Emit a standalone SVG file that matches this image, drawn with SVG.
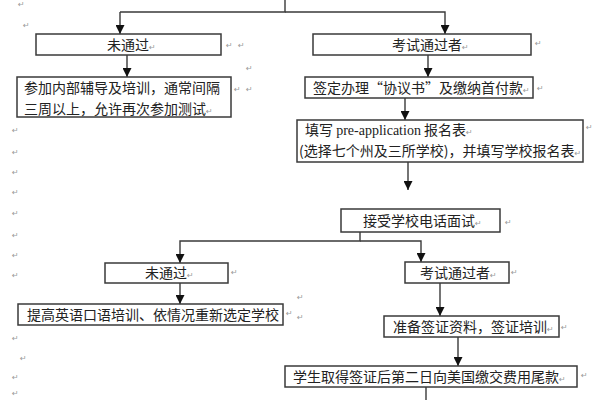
<svg xmlns="http://www.w3.org/2000/svg" width="600" height="400" viewBox="0 0 600 400">
<style>
.box{fill:#fff;stroke:#3a3a3a;stroke-width:1.5}
.t{font-family:"Noto Sans CJK SC","Noto Sans CJK JP",sans-serif;font-size:14px;fill:#222}
.lat{font-family:"Liberation Serif",serif}
.pm{font-family:"DejaVu Sans",sans-serif;font-size:8px;fill:#999}
.ln{fill:none;stroke:#3a3a3a;stroke-width:1.4}
</style>
<defs>
<marker id="ah" markerUnits="userSpaceOnUse" markerWidth="9" markerHeight="9" refX="9" refY="4.5" orient="auto">
<path d="M0,0 L9,4.5 L0,9 z" fill="#111"/>
</marker>
</defs>
<rect width="600" height="400" fill="#fff"/>
<g id="connectors">
<path class="ln" d="M285,0 V12 H120"/>
<path class="ln" d="M120,12 V34" marker-end="url(#ah)"/>
<path class="ln" d="M285,12 H445 V34" marker-end="url(#ah)"/>
<path class="ln" d="M127,55 V77" marker-end="url(#ah)"/>
<path class="ln" d="M428,55 V77" marker-end="url(#ah)"/>
<path class="ln" d="M405,98 V120" marker-end="url(#ah)"/>
<path class="ln" d="M408,162 V190" marker-end="url(#ah)"/>
<path class="ln" d="M360,232 V241 H180 V263" marker-end="url(#ah)"/>
<path class="ln" d="M360,241 H421 V262" marker-end="url(#ah)"/>
<path class="ln" d="M180,283 V304" marker-end="url(#ah)"/>
<path class="ln" d="M440,283 V316" marker-end="url(#ah)"/>
<path class="ln" d="M458,337 V366" marker-end="url(#ah)"/>
<path class="ln" d="M426,387 V400"/>
</g>
<g id="fail1">
<rect class="box" x="36" y="34" width="185" height="21"/>
<text class="t" x="107" y="50">未通过<tspan class="pm">↵</tspan></text>
</g>
<g id="training1">
<rect class="box" x="17" y="77" width="214" height="40"/>
<text class="t" x="24" y="93">参加内部辅导及培训，通常间隔</text>
<text class="t" x="24" y="114">三周以上，允许再次参加测试<tspan class="pm">↵</tspan></text>
</g>
<g id="pass1">
<rect class="box" x="313" y="34" width="218" height="21"/>
<text class="t" x="392" y="50">考试通过者<tspan class="pm">↵</tspan></text>
</g>
<g id="agreement">
<rect class="box" x="305" y="77" width="228" height="21"/>
<text class="t" x="313" y="93">签定办理“协议书”及缴纳首付款<tspan class="pm">↵</tspan></text>
</g>
<g id="preapp">
<rect class="box" x="297" y="120" width="286" height="42"/>
<text class="t" x="305" y="135">填写 <tspan class="lat">pre-application</tspan> 报名表<tspan class="pm">↵</tspan></text>
<text class="t" x="299" y="156">(选择七个州及三所学校)，并填写学校报名表<tspan class="pm">↵</tspan></text>
</g>
<g id="interview">
<rect class="box" x="341" y="209" width="159" height="23"/>
<text class="t" x="363" y="226">接受学校电话面试<tspan class="pm">↵</tspan></text>
</g>
<g id="fail2">
<rect class="box" x="105" y="263" width="123" height="20"/>
<text class="t" x="145" y="278">未通过<tspan class="pm">↵</tspan></text>
</g>
<g id="retrain">
<rect class="box" x="18" y="304" width="265" height="21"/>
<text class="t" x="27" y="320">提高英语口语培训、依情况重新选定学校</text>
</g>
<g id="pass2">
<rect class="box" x="405" y="262" width="104" height="21"/>
<text class="t" x="420" y="278">考试通过者<tspan class="pm">↵</tspan></text>
</g>
<g id="visa">
<rect class="box" x="384" y="316" width="175" height="21"/>
<text class="t" x="393" y="332">准备签证资料，签证培训<tspan class="pm">↵</tspan></text>
</g>
<g id="final">
<rect class="box" x="285" y="366" width="292" height="21"/>
<text class="t" x="293" y="382">学生取得签证后第二日向美国缴交费用尾款<tspan class="pm">↵</tspan></text>
</g>
<g id="marks" class="pm">
<text x="18" y="7">↵</text><text x="23" y="28">↵</text>
<text x="226" y="48">↵</text><text x="238" y="48">↵</text><text x="246" y="71">↵</text>
<text x="234" y="92">↵</text><text x="246" y="92">↵</text>
<text x="535" y="46">↵</text><text x="537" y="91">↵</text><text x="586" y="130">↵</text>
<text x="12" y="133">↵</text><text x="12" y="155">↵</text><text x="12" y="175">↵</text>
<text x="12" y="195">↵</text><text x="12" y="216">↵</text><text x="12" y="238">↵</text>
<text x="12" y="258">↵</text><text x="12" y="278">↵</text><text x="12" y="341">↵</text>
<text x="20" y="361">↵</text><text x="12" y="380">↵</text><text x="12" y="396">↵</text>
<text x="505" y="225">↵</text><text x="231" y="275">↵</text><text x="511" y="275">↵</text>
<text x="286" y="316">↵</text><text x="297" y="300">↵</text><text x="297" y="320">↵</text>
<text x="561" y="330">↵</text><text x="581" y="378">↵</text>
</g>
</svg>
